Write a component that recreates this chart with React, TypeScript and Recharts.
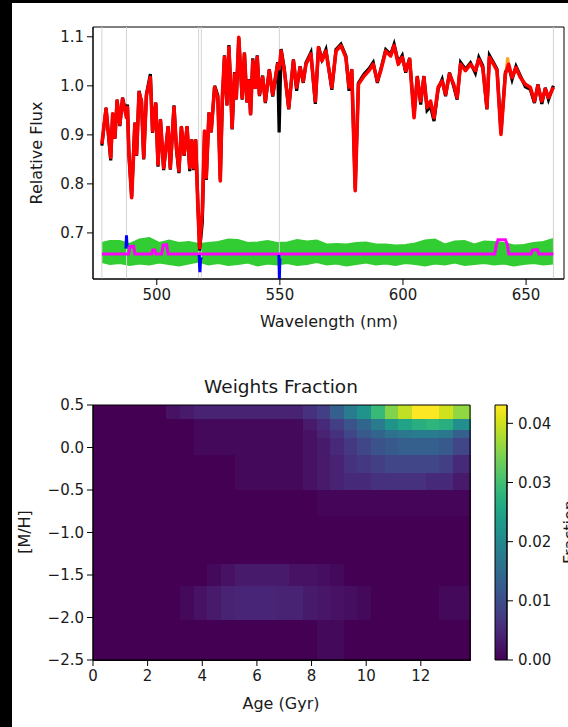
import React from 'react';
import {
  ComposedChart,
  Line,
  Area,
  Scatter,
  XAxis,
  YAxis,
  ReferenceLine,
  ReferenceArea,
} from 'recharts';

const FONT = '"DejaVu Sans", sans-serif';
const INK = '#1a1a1a';

// ---------- spectrum panel data ----------
const wavelengths = [
  477.7, 479.4, 481.3, 482.1, 483.0, 483.9, 485.0, 486.1, 487.7, 488.1,
  488.7, 489.8, 491.1, 491.8, 492.8, 493.8, 494.7, 495.8, 497.4, 498.3,
  499.6, 500.5, 501.5, 502.8, 504.6, 505.5, 507.0, 508.0, 509.0, 510.0,
  511.1, 512.3, 513.4, 514.2, 515.0, 515.8, 516.7, 517.4, 518.5, 519.4,
  520.1, 521.2, 522.1, 523.5, 524.8, 525.8, 526.6, 527.5, 528.5, 529.3,
  530.0, 530.6, 531.6, 532.3, 533.3, 534.7, 535.6, 536.6, 537.4, 538.1,
  539.0, 540.0, 540.8, 541.7, 543.0, 544.1, 545.7, 547.1, 549.1, 549.7,
  550.5, 551.8, 553.6, 555.5, 556.8, 558.2, 559.5, 560.6, 562.6, 564.4,
  565.7, 567.1, 568.7, 571.1, 572.8, 574.8, 576.8, 578.1, 579.2, 580.6,
  581.9, 584.2, 586.2, 587.9, 589.6, 591.0, 593.0, 595.0, 596.4, 598.1,
  599.7, 601.1, 602.7, 604.5, 605.8, 607.2, 608.5, 609.8, 611.2, 612.6,
  614.3, 615.9, 617.3, 618.9, 620.6, 622.0, 623.4, 625.4, 627.4, 629.4,
  630.8, 632.4, 634.1, 635.1, 636.8, 638.2, 639.8, 641.6, 642.9, 644.3,
  645.9, 647.7, 649.7, 651.7, 653.4, 654.8, 656.4, 657.8, 659.1, 661.1,
];

const fluxObserved = [
  0.878, 0.955, 0.848, 0.945, 0.892, 0.972, 0.918, 0.976, 0.940, 0.962,
  0.858, 0.775, 0.925, 0.857, 0.990, 0.966, 0.850, 0.983, 1.024, 0.904,
  0.966, 0.835, 0.932, 0.828, 0.918, 0.829, 0.960, 0.870, 0.822, 0.918,
  0.857, 0.918, 0.826, 0.891, 0.828, 0.891, 0.760, 0.664, 0.722, 0.905,
  0.808, 0.946, 0.905, 1.000, 0.980, 0.810, 0.960, 1.062, 0.960, 1.083,
  1.000, 0.911, 1.028, 0.972, 1.098, 0.972, 1.068, 0.966, 1.014, 0.940,
  1.056, 0.994, 1.062, 0.979, 1.021, 0.965, 1.034, 0.978, 1.048, 0.905,
  1.075, 1.035, 0.952, 1.054, 0.990, 1.040, 1.006, 1.047, 1.068, 0.963,
  1.080, 1.054, 1.074, 0.992, 1.074, 1.085, 1.061, 0.990, 1.034, 0.790,
  1.006, 1.024, 1.035, 1.048, 1.006, 1.034, 1.074, 1.064, 1.085, 1.048,
  1.062, 1.027, 1.057, 0.940, 1.020, 0.962, 1.020, 0.950, 0.958, 0.928,
  0.994, 1.013, 0.979, 1.027, 0.999, 0.972, 1.048, 1.034, 1.047, 1.026,
  1.058, 1.041, 0.952, 1.062, 1.047, 1.034, 0.905, 1.028, 1.040, 1.013,
  1.040, 1.020, 0.998, 0.993, 0.965, 1.003, 0.963, 0.996, 0.972, 1.000,
];

const fluxBestFit = [
  0.882, 0.953, 0.854, 0.943, 0.895, 0.969, 0.922, 0.973, 0.935, 0.956,
  0.861, 0.772, 0.922, 0.861, 0.986, 0.969, 0.854, 0.980, 1.017, 0.908,
  0.963, 0.840, 0.929, 0.833, 0.915, 0.833, 0.956, 0.874, 0.827, 0.915,
  0.861, 0.915, 0.833, 0.888, 0.833, 0.888, 0.752, 0.670, 0.745, 0.908,
  0.813, 0.943, 0.908, 0.997, 0.976, 0.806, 0.976, 1.058, 0.963, 1.078,
  0.997, 0.915, 1.024, 0.976, 1.099, 0.976, 1.065, 0.969, 1.010, 0.943,
  1.051, 0.997, 1.058, 0.983, 1.017, 0.969, 1.031, 0.983, 1.044, 1.035,
  1.071, 1.030, 0.956, 1.051, 0.997, 1.037, 1.010, 1.044, 1.065, 0.969,
  1.078, 1.051, 1.071, 0.997, 1.071, 1.082, 1.058, 0.997, 1.031, 0.786,
  1.003, 1.020, 1.031, 1.044, 1.010, 1.031, 1.071, 1.061, 1.082, 1.044,
  1.058, 1.031, 1.054, 0.935, 1.017, 0.969, 1.017, 0.956, 0.969, 0.935,
  0.997, 1.010, 0.983, 1.024, 1.003, 0.976, 1.044, 1.031, 1.044, 1.031,
  1.054, 1.037, 0.956, 1.058, 1.044, 1.031, 0.901, 1.024, 1.044, 1.017,
  1.037, 1.017, 1.003, 0.997, 0.969, 1.000, 0.969, 0.993, 0.976, 0.997,
];

const orangeWavelengths = [641.9, 642.5, 643.1];
const orangeFlux = [1.03, 1.058, 1.035];

const bandWavelengths = [
  477.7, 481, 485, 489, 493, 497, 501, 505, 509, 513, 517, 521, 525, 529, 533, 537,
  541, 545, 549, 553, 557, 561, 565, 569, 573, 577, 581, 585, 589, 593, 597, 601,
  605, 609, 613, 617, 621, 625, 629, 633, 637, 641, 645, 649, 653, 657, 661.1,
];
const residualHigh = [
  0.680, 0.684, 0.684, 0.678, 0.687, 0.690, 0.680, 0.685, 0.680, 0.682, 0.678, 0.680,
  0.682, 0.687, 0.686, 0.680, 0.681, 0.684, 0.680, 0.681, 0.686, 0.683, 0.685, 0.677,
  0.678, 0.677, 0.680, 0.681, 0.677, 0.677, 0.675, 0.676, 0.679, 0.685, 0.687, 0.677,
  0.683, 0.684, 0.677, 0.683, 0.682, 0.680, 0.675, 0.676, 0.680, 0.682, 0.688,
];
const residualLow = [
  0.640, 0.636, 0.638, 0.634, 0.637, 0.635, 0.639, 0.636, 0.633, 0.637, 0.641, 0.635,
  0.638, 0.634, 0.636, 0.639, 0.633, 0.637, 0.635, 0.638, 0.634, 0.636, 0.640, 0.635,
  0.637, 0.633, 0.636, 0.639, 0.635, 0.637, 0.634, 0.638, 0.636, 0.633, 0.637, 0.635,
  0.639, 0.634, 0.636, 0.638, 0.635, 0.637, 0.633, 0.636, 0.638, 0.635, 0.637,
];

const gasWavelengths = [
  477.7, 488.6, 489.1, 490.6, 491.1, 497.9, 498.4, 499.2, 499.6, 502.0, 502.6, 504.0,
  504.6, 637.3, 637.9, 638.6, 641.6, 642.4, 643.0, 652.0, 652.6, 654.6, 655.2, 661.1,
];
const gasFlux = [
  0.657, 0.657, 0.672, 0.673, 0.657, 0.657, 0.665, 0.665, 0.657, 0.657, 0.675, 0.676,
  0.657, 0.657, 0.675, 0.686, 0.686, 0.676, 0.657, 0.657, 0.665, 0.666, 0.657, 0.657,
];

const maskedWavelengths = [487.5, 487.7, 487.9, 488.0, 517.2, 517.5, 517.8, 518.1, 518.2, 549.6, 549.8, 550.0];
const maskedFlux = [0.668, 0.695, 0.672, null, 0.655, 0.620, 0.645, 0.650, null, 0.655, 0.606, 0.648];

const segmentEdges = [477.7, 487.7, 517.0, 518.1, 549.8, 661.1];
const waveTicks = [500, 550, 600, 650];
const fluxTicks = [0.7, 0.8, 0.9, 1.0, 1.1];

// ---------- weights panel data ----------
const ageEdges = [
  0, 0.7, 1.2, 1.7, 2.2, 2.7, 3.2, 3.7, 4.2, 4.7, 5.2, 5.7, 6.2, 6.7, 7.2,
  7.7, 8.2, 8.7, 9.2, 9.7, 10.2, 10.7, 11.2, 11.7, 12.2, 12.7, 13.2, 13.8,
];
const metalEdges = [0.5, 0.33, 0.205, 0.105, -0.095, -0.3, -0.505, -0.81, -1.11, -1.375, -1.64, -2.03, -2.5];
// one row per metallicity bin (top to bottom), one value per age bin
const weights = [
  [0, 0, 0, 0, 0, 0.002, 0.003, 0.004, 0.004, 0.004, 0.004, 0.004, 0.004, 0.004, 0.004, 0.006, 0.008, 0.013, 0.018, 0.022, 0.029, 0.035, 0.039, 0.043, 0.043, 0.040, 0.036],
  [0, 0, 0, 0, 0, 0, 0, 0.001, 0.001, 0.001, 0.001, 0.001, 0.001, 0.001, 0.001, 0.003, 0.005, 0.008, 0.011, 0.014, 0.018, 0.022, 0.025, 0.027, 0.028, 0.027, 0.021],
  [0, 0, 0, 0, 0, 0, 0, 0.001, 0.001, 0.001, 0.001, 0.001, 0.001, 0.001, 0.001, 0.002, 0.004, 0.006, 0.009, 0.012, 0.014, 0.016, 0.017, 0.018, 0.018, 0.017, 0.013],
  [0, 0, 0, 0, 0, 0, 0, 0.001, 0.001, 0.001, 0.001, 0.001, 0.001, 0.001, 0.001, 0.002, 0.003, 0.005, 0.007, 0.009, 0.011, 0.012, 0.013, 0.013, 0.013, 0.012, 0.009],
  [0, 0, 0, 0, 0, 0, 0, 0, 0, 0, 0.001, 0.001, 0.001, 0.001, 0.001, 0.002, 0.003, 0.004, 0.006, 0.007, 0.008, 0.009, 0.009, 0.009, 0.009, 0.008, 0.005],
  [0, 0, 0, 0, 0, 0, 0, 0, 0, 0, 0.001, 0.001, 0.001, 0.001, 0.001, 0.002, 0.003, 0.004, 0.005, 0.005, 0.006, 0.006, 0.006, 0.006, 0.005, 0.005, 0.003],
  [0, 0, 0, 0, 0, 0, 0, 0, 0, 0, 0, 0, 0, 0, 0, 0, 0.0005, 0.0005, 0.0005, 0.0005, 0.0005, 0.0005, 0.0005, 0.0005, 0.0005, 0.0005, 0.0005],
  [0, 0, 0, 0, 0, 0, 0, 0, 0, 0, 0, 0, 0, 0, 0, 0, 0, 0, 0, 0, 0, 0, 0, 0, 0, 0, 0],
  [0, 0, 0, 0, 0, 0, 0, 0, 0, 0, 0, 0, 0, 0, 0, 0, 0, 0, 0, 0, 0, 0, 0, 0, 0, 0, 0],
  [0, 0, 0, 0, 0, 0, 0, 0, 0.001, 0.002, 0.003, 0.003, 0.003, 0.003, 0.002, 0.002, 0.0015, 0.001, 0, 0, 0, 0, 0, 0, 0, 0, 0],
  [0, 0, 0, 0, 0, 0, 0.001, 0.002, 0.003, 0.004, 0.0045, 0.0045, 0.0045, 0.004, 0.004, 0.003, 0.0025, 0.002, 0.0015, 0.001, 0, 0, 0, 0, 0, 0.001, 0.001],
  [0, 0, 0, 0, 0, 0, 0, 0, 0, 0, 0, 0, 0, 0, 0, 0, 0.001, 0.001, 0, 0, 0, 0, 0, 0, 0, 0, 0],
];
const ageTicks = [0, 2, 4, 6, 8, 10, 12];
const metalTicks = [0.5, 0, -0.5, -1, -1.5, -2, -2.5];
const fractionTicks = [0, 0.01, 0.02, 0.03, 0.04];
const FRACTION_MAX = 0.0431;

const viridis = [
  '#440154', '#471365', '#482475', '#463480', '#414487', '#3b528b', '#355f8d',
  '#2f6c8e', '#2a788e', '#25848e', '#21918c', '#1e9c89', '#22a884', '#2fb47c',
  '#44bf70', '#5ec962', '#7ad151', '#9bd93c', '#bddf26', '#dfe318', '#fde725',
];

const hex = (c: string) => [1, 3, 5].map((i) => parseInt(c.slice(i, i + 2), 16));
const colorFor = (v: number) => {
  const t = Math.max(0, Math.min(1, v / FRACTION_MAX)) * (viridis.length - 1);
  const i = Math.min(viridis.length - 2, Math.floor(t));
  const f = t - i;
  const a = hex(viridis[i]);
  const b = hex(viridis[i + 1]);
  const m = a.map((x, j) => Math.round(x + (b[j] - x) * f));
  return `rgb(${m[0]},${m[1]},${m[2]})`;
};

const minus = (v: number) => (v < 0 ? '\u2212' + Math.abs(v).toFixed(1) : v.toFixed(1));

const tickStyle = { fill: INK, fontSize: 15, fontFamily: FONT };

// custom text placed at fixed spots inside the svg
const Title = ({ tx, ty, rot, txt, size = 16, base = 'central' }: any) => (
  <text
    x={tx}
    y={ty}
    transform={rot ? `rotate(${rot} ${tx} ${ty})` : undefined}
    textAnchor="middle"
    dominantBaseline={base}
    fontFamily={FONT}
    fontSize={size}
    fill={INK}
  >
    {txt}
  </text>
);

const SpectrumPanel = () => {
  const spectrum = wavelengths.map((w, i) => ({ w, obs: fluxObserved[i], fit: fluxBestFit[i] }));
  const orange = orangeWavelengths.map((w, i) => ({ w, gas2: orangeFlux[i] }));
  const band = bandWavelengths.map((w, i) => ({ w, band: [residualLow[i], residualHigh[i]] }));
  const gas = gasWavelengths.map((w, i) => ({ w, gas: gasFlux[i] }));
  const masked = maskedWavelengths.map((w, i) => ({ w, masked: maskedFlux[i] }));

  return (
    <ComposedChart width={568} height={345} margin={{ top: 27, right: 4, bottom: 21, left: 33 }}>
      <XAxis
        type="number"
        dataKey="w"
        domain={[474.1, 665.4]}
        ticks={waveTicks}
        allowDataOverflow
        height={45}
        tick={tickStyle}
        tickLine={{ stroke: '#000' }}
        axisLine={{ stroke: '#000' }}
        tickSize={6}
        tickMargin={4}
        label={<Title tx={329} ty={321} txt="Wavelength (nm)" />}
      />
      <YAxis
        type="number"
        domain={[0.606, 1.12]}
        ticks={fluxTicks}
        tickFormatter={(v: number) => v.toFixed(1)}
        allowDataOverflow
        width={60}
        tick={tickStyle}
        tickLine={{ stroke: '#000' }}
        axisLine={{ stroke: '#000' }}
        tickSize={6}
        tickMargin={3}
        label={<Title tx={36} ty={153} rot={-90} txt="Relative Flux" />}
      />
      {segmentEdges.map((x) => (
        <ReferenceLine key={x} x={x} stroke="#d4d4d4" strokeWidth={1} />
      ))}
      <Area
        data={band}
        dataKey="band"
        type="linear"
        stroke="#32cd32"
        strokeWidth={1.5}
        fill="#32cd32"
        fillOpacity={1}
        dot={false}
        activeDot={false}
        isAnimationActive={false}
      />
      <Line data={gas} dataKey="gas" stroke="#ff00ff" strokeWidth={3} dot={false} activeDot={false} isAnimationActive={false} />
      <Line data={masked} dataKey="masked" stroke="#0000ff" strokeWidth={3} dot={false} activeDot={false} isAnimationActive={false} />
      <Line data={spectrum} dataKey="obs" stroke="#000" strokeWidth={3.2} dot={false} activeDot={false} isAnimationActive={false} />
      <Line data={orange} dataKey="gas2" stroke="#f5a623" strokeWidth={3} dot={false} activeDot={false} isAnimationActive={false} />
      <Line
        data={spectrum}
        dataKey="fit"
        stroke="#ff0000"
        strokeWidth={3.6}
        strokeLinejoin="round"
        dot={false}
        activeDot={false}
        isAnimationActive={false}
      />
      <ReferenceArea x1={474.1} x2={665.4} y1={0.606} y2={1.12} fill="none" stroke="#000" strokeWidth={1} ifOverflow="visible" />
    </ComposedChart>
  );
};

const WeightsPanel = () => {
  const cells: { x1: number; x2: number; y1: number; y2: number; c: string }[] = [];
  weights.forEach((row, r) =>
    row.forEach((v, k) =>
      cells.push({ x1: ageEdges[k], x2: ageEdges[k + 1], y1: metalEdges[r + 1], y2: metalEdges[r], c: colorFor(v) })
    )
  );

  return (
    <ComposedChart width={480} height={367} margin={{ top: 45, right: 10, bottom: 17, left: 33 }}>
      <XAxis
        type="number"
        dataKey="age"
        domain={[0, 13.8]}
        ticks={ageTicks}
        allowDataOverflow
        height={50}
        tick={tickStyle}
        tickLine={{ stroke: '#000' }}
        axisLine={{ stroke: '#000' }}
        tickSize={6}
        tickMargin={4}
        label={<Title tx={281} ty={343} txt="Age (Gyr)" />}
      />
      <YAxis
        type="number"
        dataKey="mh"
        domain={[-2.5, 0.5]}
        ticks={metalTicks}
        tickFormatter={minus}
        allowDataOverflow
        width={60}
        tick={tickStyle}
        tickLine={{ stroke: '#000' }}
        axisLine={{ stroke: '#000' }}
        tickSize={6}
        tickMargin={3}
        label={<Title tx={24} ty={172} rot={-90} txt="[M/H]" />}
      />
      {cells.map((c, i) => (
        <ReferenceArea
          key={i}
          x1={c.x1}
          x2={c.x2}
          y1={c.y1}
          y2={c.y2}
          fill={c.c}
          fillOpacity={1}
          stroke={c.c}
          strokeWidth={1}
          shapeRendering="crispEdges"
          ifOverflow="visible"
        />
      ))}
      <Scatter data={[{ age: 0, mh: -2.5 }]} dataKey="mh" fill="none" isAnimationActive={false} />
      <ReferenceArea
        x1={0}
        x2={13.8}
        y1={-2.5}
        y2={0.5}
        fill="none"
        stroke="#000"
        strokeWidth={1}
        ifOverflow="visible"
        label={<Title tx={281} ty={26} txt="Weights Fraction" size={18.5} />}
      />
    </ComposedChart>
  );
};

const ColorbarPanel = () => {
  const ticksData = fractionTicks.map((v) => ({ x: 0.5, v }));
  return (
    <ComposedChart width={88} height={367} margin={{ top: 45, right: 0, bottom: 67, left: 15 }}>
      <defs>
        <linearGradient id="viridisBar" x1="0" y1="1" x2="0" y2="0">
          {viridis.map((c, i) => (
            <stop key={c} offset={i / (viridis.length - 1)} stopColor={c} />
          ))}
        </linearGradient>
      </defs>
      <XAxis type="number" dataKey="x" domain={[0, 1]} hide />
      <YAxis
        type="number"
        orientation="right"
        domain={[0, FRACTION_MAX]}
        ticks={fractionTicks}
        tickFormatter={(v: number) => v.toFixed(2)}
        allowDataOverflow
        width={61}
        tick={tickStyle}
        tickLine={{ stroke: '#000' }}
        axisLine={{ stroke: '#000' }}
        tickSize={6}
        tickMargin={5}
        label={<Title tx={95} ty={172} rot={-90} txt="Fraction" base="auto" />}
      />
      <ReferenceArea x1={0} x2={1} y1={0} y2={FRACTION_MAX} fill="url(#viridisBar)" fillOpacity={1} stroke="#000" strokeWidth={1} ifOverflow="visible" />
      <Line data={ticksData} dataKey="v" stroke="none" dot={false} activeDot={false} isAnimationActive={false} />
    </ComposedChart>
  );
};

export default function App() {
  return (
    <div style={{ position: 'absolute', left: 0, top: 0, width: 568, height: 727, background: '#fff', overflow: 'hidden' }}>
      <div style={{ position: 'absolute', left: 0, top: 0, width: 12, height: 727, background: '#000' }} />
      <div style={{ position: 'absolute', left: 0, top: 0, width: 568, height: 3, background: '#000' }} />
      <div style={{ position: 'absolute', left: 0, top: 0 }}>
        <SpectrumPanel />
      </div>
      <div style={{ position: 'absolute', left: 0, top: 360 }}>
        <WeightsPanel />
      </div>
      <div style={{ position: 'absolute', left: 480, top: 360 }}>
        <ColorbarPanel />
      </div>
    </div>
  );
}
